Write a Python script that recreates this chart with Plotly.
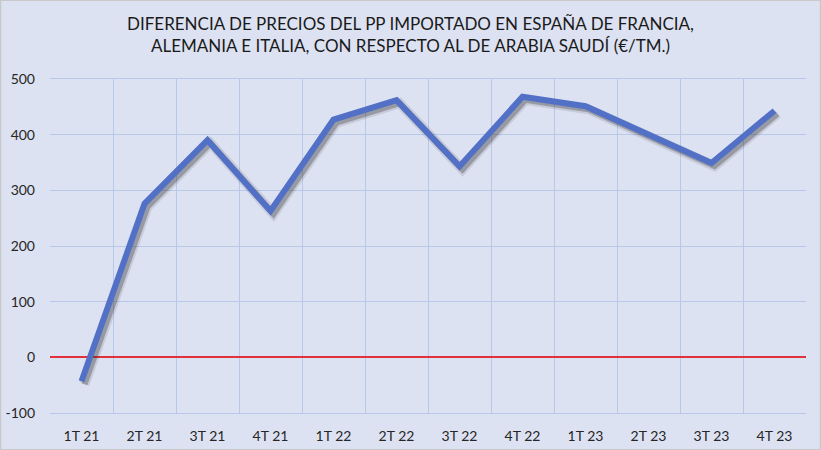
import plotly.graph_objects as go

# quarters and price difference (EUR/TM)
quarters = ["1T 21", "2T 21", "3T 21", "4T 21",
            "1T 22", "2T 22", "3T 22", "4T 22",
            "1T 23", "2T 23", "3T 23", "4T 23"]
price_diff = [-43, 276, 390, 263, 427, 462, 343, 468, 451, 400, 349, 443]

y_ticks = [-100, 0, 100, 200, 300, 400, 500]
y_labels = ["-100", "0", "100", "200", "300", "400", "500"]

W, H = 821, 450
margin = dict(l=50, r=15, t=79, b=37)
plot_w = W - margin["l"] - margin["r"]
plot_h = H - margin["t"] - margin["b"]

y_range = [-100, 500]
x_range = [-0.5, len(quarters) - 0.5]

# shadow offset in pixels -> shift the shadow axes' ranges
shift_px = 3
dx = shift_px * (x_range[1] - x_range[0]) / plot_w
dy = shift_px * (y_range[1] - y_range[0]) / plot_h

bg = "#dde2f2"
grid = "#b7c8e8"
blue = "#5271c6"
font = "Lato"

fig = go.Figure()

# invisible trace so the base axes (ticks, grid, zero line) get drawn
fig.add_trace(go.Scatter(
    x=quarters, y=price_diff, mode="lines",
    line=dict(color="rgba(0,0,0,0)", width=0),
    hoverinfo="skip", showlegend=False,
))

# soft shadow, two passes to fake a blur
for w, a in [(10, 0.12), (6, 0.30)]:
    fig.add_trace(go.Scatter(
        x=quarters, y=price_diff, mode="lines",
        line=dict(color=f"rgba(40,40,40,{a})", width=w),
        xaxis="x2", yaxis="y2", hoverinfo="skip", showlegend=False,
    ))

fig.add_trace(go.Scatter(
    x=quarters, y=price_diff, mode="lines",
    line=dict(color=blue, width=6),
    xaxis="x3", yaxis="y3", showlegend=False,
))

hidden = dict(visible=False, showgrid=False, zeroline=False)

fig.update_layout(
    width=W, height=H,
    margin=margin,
    paper_bgcolor=bg,
    plot_bgcolor=bg,
    font=dict(family=font, size=14, color="#262626"),
    title=dict(
        text="DIFERENCIA DE PRECIOS DEL PP IMPORTADO EN ESPAÑA DE FRANCIA,<br>"
             "ALEMANIA E ITALIA, CON RESPECTO AL DE ARABIA SAUDÍ (€/TM.)",
        x=0.5, xanchor="center", y=0.934, yanchor="top",
        font=dict(family=font, size=17, color="#1a1a1a"),
    ),
    xaxis=dict(
        type="category", categoryorder="array", categoryarray=quarters,
        range=x_range, tickson="boundaries", ticks="",
        showgrid=True, gridcolor=grid, gridwidth=1,
        showline=True, linecolor=grid, mirror=True,
        ticklabelstandoff=10, automargin=False,
    ),
    yaxis=dict(
        range=y_range, tickvals=y_ticks, ticktext=y_labels, ticks="",
        showgrid=True, gridcolor=grid, gridwidth=1,
        zeroline=True, zerolinecolor="#e0323a", zerolinewidth=2,
        ticklabelstandoff=14, automargin=False,
    ),
    xaxis2=dict(type="category", categoryorder="array", categoryarray=quarters,
                overlaying="x", range=[x_range[0] - dx, x_range[1] - dx], **hidden),
    yaxis2=dict(overlaying="y", range=[y_range[0] + dy, y_range[1] + dy], **hidden),
    xaxis3=dict(type="category", categoryorder="array", categoryarray=quarters,
                overlaying="x", range=x_range, **hidden),
    yaxis3=dict(overlaying="y", range=y_range, **hidden),
)

# thin border around the whole picture
fig.add_shape(
    type="rect", xref="paper", yref="paper",
    x0=-margin["l"] / plot_w + 0.0007, x1=1 + margin["r"] / plot_w - 0.0007,
    y0=-margin["b"] / plot_h + 0.001, y1=1 + margin["t"] / plot_h - 0.001,
    line=dict(color="#c9c9c9", width=1.5), layer="below",
)

# drop the page's default body margin so the figure sits at the top-left corner
fig.write_html(
    "out.html",
    config={"displayModeBar": False},
    post_script="document.body.style.margin = '0';",
)
